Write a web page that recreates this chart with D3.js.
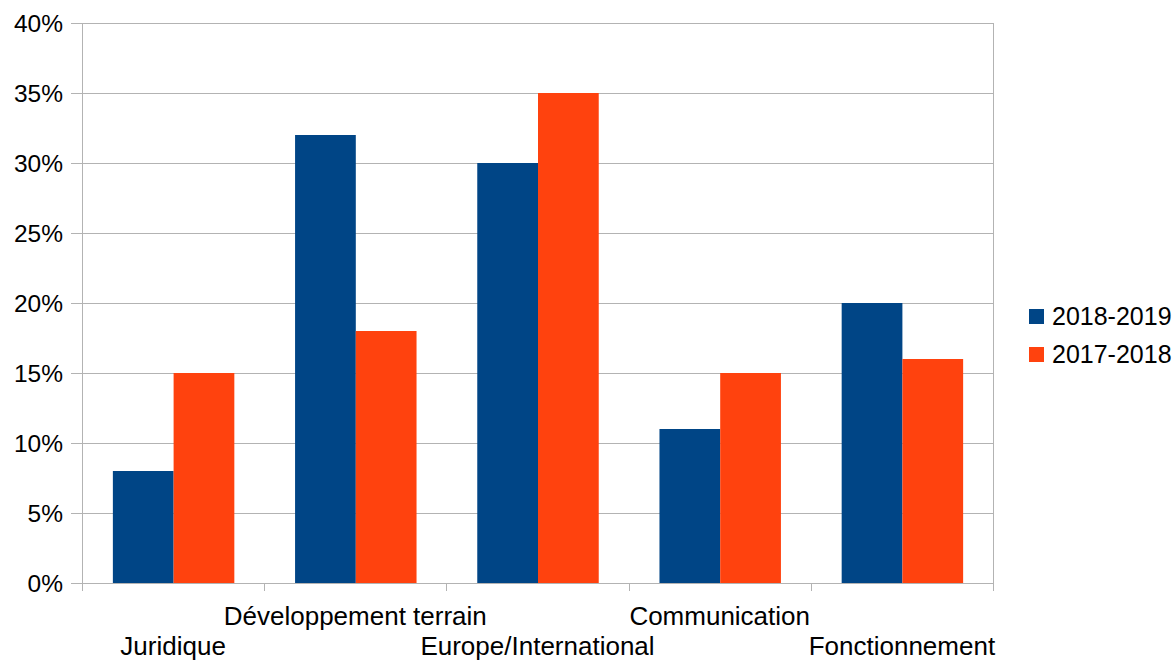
<!DOCTYPE html>
<html>
<head>
<meta charset="utf-8">
<script src="https://cdn.jsdelivr.net/npm/d3@7"></script>
<style>
  html, body { margin: 0; padding: 0; background: #fff; }
  svg { display: block; font-family: "Liberation Sans", Arial, sans-serif; }
</style>
</head>
<body>
<svg id="chart" width="1174" height="660"></svg>
<script>
// Budget share per activity, two seasons
const categories = ["Juridique", "Développement terrain", "Europe/International", "Communication", "Fonctionnement"];
const seriesNames = ["2018-2019", "2017-2018"];
const values2018_2019 = [0.08, 0.32, 0.30, 0.11, 0.20];
const values2017_2018 = [0.15, 0.18, 0.35, 0.15, 0.16];
const yTicks = [0, 0.05, 0.10, 0.15, 0.20, 0.25, 0.30, 0.35, 0.40];
const colors = ["#004586", "#ff420e"];

const seriesValues = [values2018_2019, values2017_2018];
const rows = categories.map((c, i) => ({
  category: c,
  values: seriesNames.map((s, j) => ({ series: s, value: seriesValues[j][i], color: colors[j] }))
}));

const svg = d3.select("#chart");
const plot = { left: 82, right: 993, top: 23, bottom: 583 };
const gridColor = "#b3b3b3";

const x = d3.scaleBand().domain(categories).range([plot.left, plot.right]).padding(0);
const bw = x.bandwidth();
const xInner = d3.scaleBand().domain(seriesNames).range([bw / 6 + 0.5, bw * 5 / 6 + 0.5]).padding(0);
const y = d3.scaleLinear().domain([0, 0.4]).range([plot.bottom, plot.top]);

// horizontal gridlines with short ticks left of the axis
svg.append("g")
  .selectAll("line")
  .data(yTicks)
  .join("line")
  .attr("x1", plot.left - 11)
  .attr("x2", plot.right)
  .attr("y1", d => Math.round(y(d)) + 0.5)
  .attr("y2", d => Math.round(y(d)) + 0.5)
  .attr("stroke", gridColor)
  .attr("stroke-width", 1);

// right border of plot area
svg.append("line")
  .attr("x1", plot.right + 0.5).attr("x2", plot.right + 0.5)
  .attr("y1", plot.top).attr("y2", plot.bottom)
  .attr("stroke", gridColor);

// bars
const groups = svg.append("g")
  .selectAll("g")
  .data(rows)
  .join("g")
  .attr("transform", d => `translate(${x(d.category)},0)`);

groups.selectAll("rect")
  .data(d => d.values)
  .join("rect")
  .attr("x", d => xInner(d.series))
  .attr("width", xInner.bandwidth())
  .attr("y", d => y(d.value))
  .attr("height", d => y(0) - y(d.value))
  .attr("fill", d => d.color);

// y axis line
svg.append("line")
  .attr("x1", plot.left + 0.5).attr("x2", plot.left + 0.5)
  .attr("y1", plot.top).attr("y2", plot.bottom + 8)
  .attr("stroke", gridColor);

// x axis tick marks at category boundaries
const boundaries = categories.map(c => x(c)).concat([plot.right]);
svg.append("g")
  .selectAll("line")
  .data(boundaries)
  .join("line")
  .attr("x1", d => Math.round(d) + 0.5)
  .attr("x2", d => Math.round(d) + 0.5)
  .attr("y1", plot.bottom)
  .attr("y2", plot.bottom + 8)
  .attr("stroke", gridColor);

// y tick labels
svg.append("g")
  .selectAll("text")
  .data(yTicks)
  .join("text")
  .attr("x", 63)
  .attr("y", d => y(d) + 9)
  .attr("text-anchor", "end")
  .attr("font-size", 24.5)
  .attr("fill", "#000")
  .text(d => d3.format(".0%")(d));

// category labels, staggered on two rows
svg.append("g")
  .selectAll("text")
  .data(categories)
  .join("text")
  .attr("x", d => x(d) + bw / 2)
  .attr("y", (d, i) => i % 2 === 0 ? 655 : 625)
  .attr("text-anchor", "middle")
  .attr("font-size", 26)
  .attr("fill", "#000")
  .text(d => d);

// legend
const legend = svg.append("g")
  .selectAll("g")
  .data(seriesNames)
  .join("g")
  .attr("transform", (d, i) => `translate(1029,${309 + i * 38})`);

legend.append("rect")
  .attr("width", 15).attr("height", 15)
  .attr("fill", (d, i) => colors[i]);

legend.append("text")
  .attr("x", 23)
  .attr("y", 16)
  .attr("font-size", 25)
  .attr("fill", "#000")
  .text(d => d);
</script>
</body>
</html>
